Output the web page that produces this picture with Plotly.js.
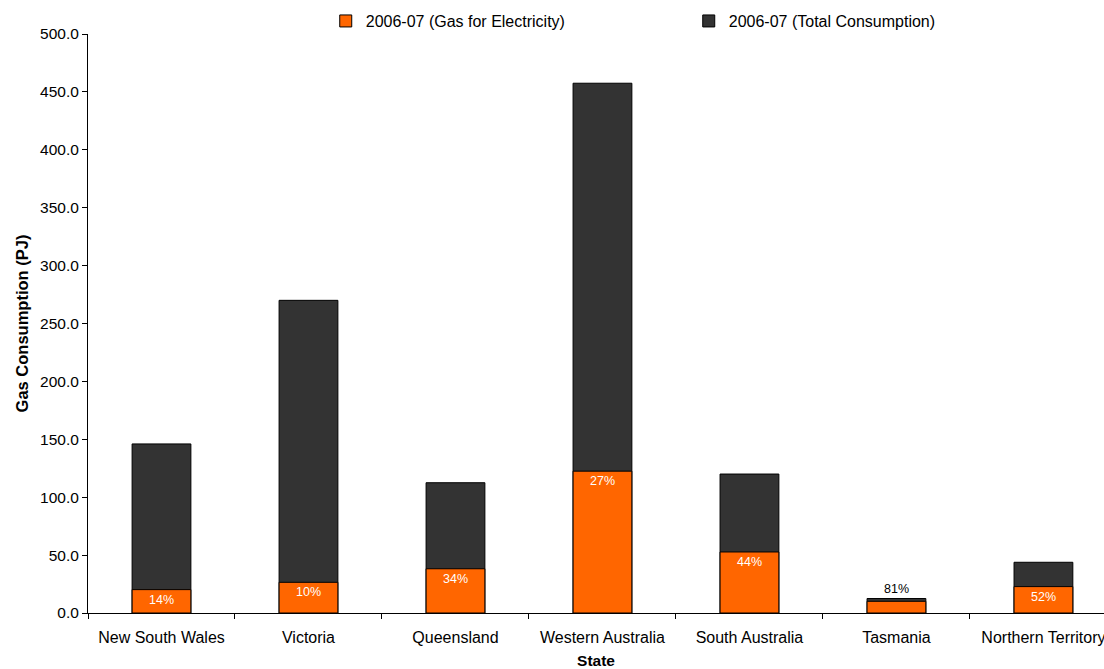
<!DOCTYPE html>
<html>
<head>
<meta charset="utf-8">
<script src="https://cdn.plot.ly/plotly-3.0.1.min.js"></script>
<style>html,body{margin:0;padding:0;overflow:hidden;background:#fff}</style>
</head>
<body>
<div id="chart" style="width:1104px;height:669px"></div>
<script>
const states = ["New South Wales","Victoria","Queensland","Western Australia","South Australia","Tasmania","Northern Territory"];
const gasForElectricity = [20.2, 26.5, 38.2, 122.5, 52.7, 10.1, 22.8];
const totalConsumption = [146.0, 270.0, 112.5, 457.5, 120.0, 12.5, 43.8];
const shareLabels = ["14%","10%","34%","27%","44%","81%","52%"];

const font = "Liberation Sans, Arial, sans-serif";

const traces = [
  {type:"bar", name:"2006-07 (Total Consumption)", x:states, y:totalConsumption,
   width:0.4, marker:{color:"#333333", line:{color:"#000000", width:1}}, hoverinfo:"x+y"},
  {type:"bar", name:"2006-07 (Gas for Electricity)", x:states, y:gasForElectricity,
   width:0.4, marker:{color:"#FF6600", line:{color:"#000000", width:1}}, hoverinfo:"x+y"}
];

const annotations = states.map((s,i)=>{
  const outside = gasForElectricity[i] < 15;
  return {
    x:s, y: outside ? totalConsumption[i] : gasForElectricity[i],
    text: shareLabels[i], showarrow:false,
    yanchor: outside ? "bottom" : "top",
    yshift: outside ? 1 : -1,
    font:{family:font, size:12.5, color: outside ? "#000000" : "#ffffff"}
  };
});

const layout = {
  width:1104, height:669,
  paper_bgcolor:"#ffffff", plot_bgcolor:"#ffffff",
  margin:{l:88, r:0, t:34, b:56},
  barmode:"overlay",
  showlegend:true,
  legend:{orientation:"h", traceorder:"reversed", x:0.234, xanchor:"left", y:0.993, yanchor:"bottom",
          font:{family:font, size:16, color:"#000"}, entrywidth:318, itemwidth:30},
  font:{family:font, size:16, color:"#000"},
  xaxis:{type:"category", range:[-0.5, 6.412], showline:true, linecolor:"#000", linewidth:1,
         ticks:"outside", ticklen:5, tickcolor:"#000", tickson:"boundaries", showgrid:false,
         ticklabelstandoff:10,
         tickfont:{family:font, size:16, color:"#000"},
         title:{text:"<b>State</b>", font:{family:font, size:15.5, color:"#000"}, standoff:17}},
  yaxis:{range:[0,500], dtick:50, tickformat:".1f", showline:true, linecolor:"#000", linewidth:1,
         ticks:"outside", ticklen:5, tickcolor:"#000", showgrid:false, zeroline:false,
         tickfont:{family:font, size:15.5, color:"#000"},
         title:{text:"<b>Gas Consumption (PJ)</b>", font:{family:font, size:16.5, color:"#000"}, standoff:7}},
  annotations: annotations
};

Plotly.newPlot("chart", traces, layout, {displayModeBar:false, staticPlot:true});
</script>
</body>
</html>
